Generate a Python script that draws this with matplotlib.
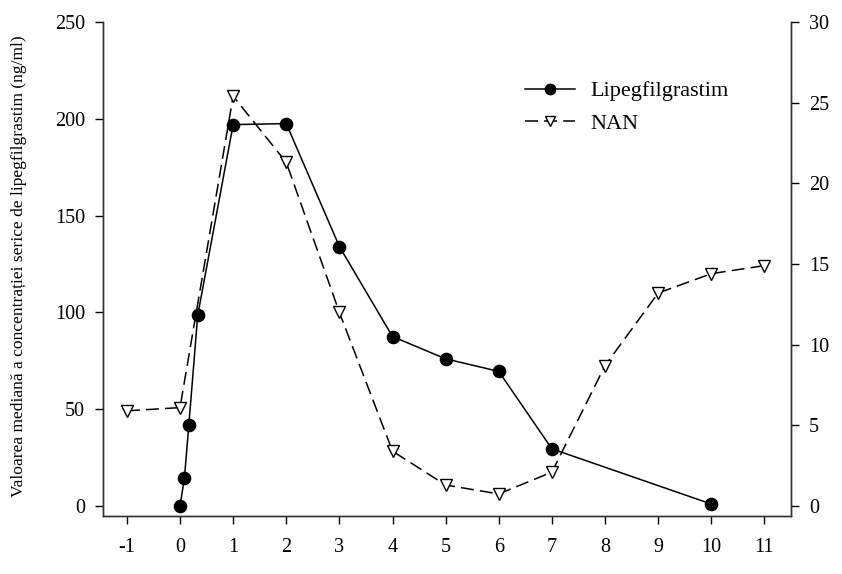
import matplotlib.pyplot as plt

plt.rcParams['font.family'] = ['Liberation Serif', 'DejaVu Serif']

# time (days) and median serum concentration (left axis)
lipeg_x = [0, 2/24, 4/24, 8/24, 1, 2, 3, 4, 5, 6, 7, 10]
lipeg_y = [0, 14.5, 42, 98.5, 197, 197.5, 134, 87.5, 76, 69.5, 29.5, 1]

# NAN on right axis
nan_x = [-1, 0, 1, 2, 3, 4, 5, 6, 7, 8, 9, 10, 11]
nan_y = [5.9, 6.1, 25.4, 21.3, 12.0, 3.4, 1.3, 0.75, 2.1, 8.7, 13.2, 14.4, 14.9]

xticks = list(range(-1, 12))

fig = plt.figure(figsize=(8.42, 5.74), dpi=100)
ax = fig.add_axes([0.1223, 0.101, 0.8171, 0.8607])
ax2 = ax.twinx()

l1, = ax.plot(lipeg_x, lipeg_y, '-', color='black', lw=1.1, marker='o',
              ms=8.8, mfc='black', mec='black', label='Lipegfilgrastim')
l2, = ax2.plot(nan_x, nan_y, '--', color='black', lw=1.1, dashes=(8.5, 4),
               marker='v', ms=9, mfc='white', mec='black', mew=1, label='NAN')

ax.set_xlim(-1.45, 11.5)
ax.set_ylim(-5.2, 250)
ax2.set_ylim(-0.62, 30)
ax.set_xticks(xticks)
ax.set_xticklabels([str(t) for t in xticks])
ax.set_yticks(range(0, 251, 50))
ax2.set_yticks(range(0, 31, 5))

for a in (ax, ax2):
    a.spines['top'].set_visible(False)
    for s in a.spines.values():
        s.set_linewidth(1)
        s.set_color('#333333')
    a.tick_params(direction='out', length=6, width=1, labelsize=14.5, colors='black', pad=7)
ax.tick_params(axis='x', pad=10)
ax.spines['left'].set_bounds(-5.2, 250)
ax2.spines['right'].set_bounds(-0.62, 30)

ax.set_ylabel('Valoarea mediană a concentrației serice de lipegfilgrastim (ng/ml)', fontsize=12.6)
ax.yaxis.set_label_coords(-0.11, 0.505)

ax.legend([l1, l2], ['Lipegfilgrastim', 'NAN'], loc='upper left',
          bbox_to_anchor=(0.613, 0.881), frameon=False, fontsize=16,
          borderpad=0, borderaxespad=0, handlelength=2.25, handletextpad=0.7,
          labelspacing=0.55, markerscale=0.85)

fig.savefig('out.png', dpi=100)
